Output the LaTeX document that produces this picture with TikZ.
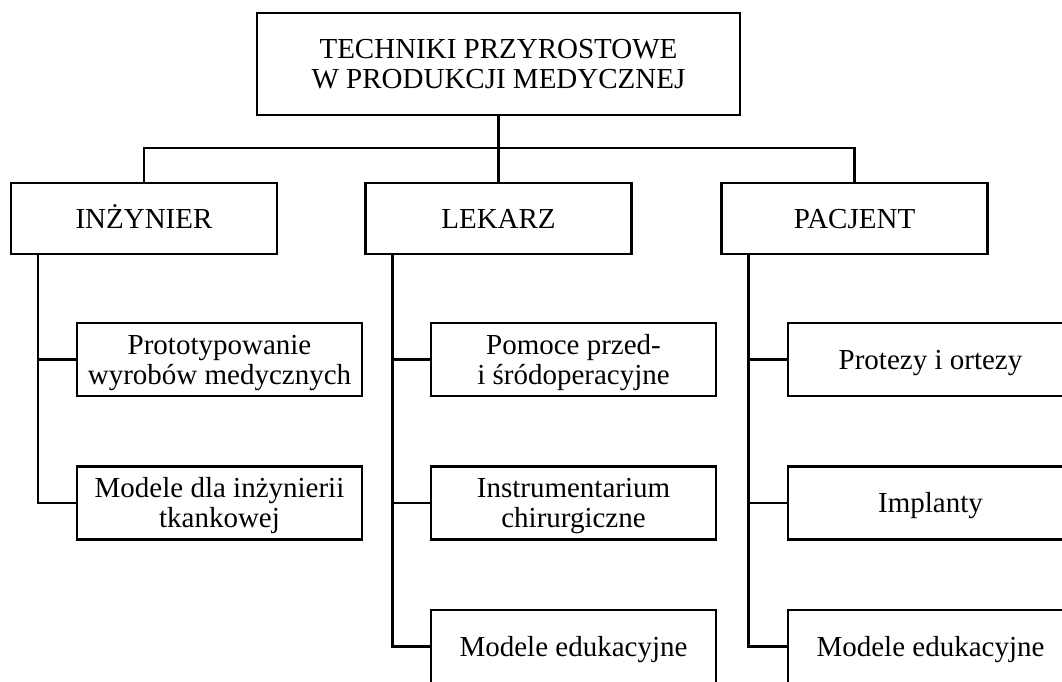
\documentclass[tikz,border=0pt]{standalone}
\usepackage{fontspec}
\setmainfont{Liberation Serif}

\begin{document}
\begin{tikzpicture}[x=1pt,y=-1pt]
\tikzset{every node/.style={font=\fontsize{29}{30}\selectfont}}
\tikzset{box/.style={draw, line width=2.2pt, align=center, inner sep=0pt, minimum width=285pt, minimum height=73pt, text height=19pt, text depth=0pt}}
\tikzset{twolines/.style={text height=49pt}}
\tikzset{group/.style={box, minimum width=266pt, minimum height=71pt}}
\tikzset{link/.style={line width=2.2pt}}
        \useasboundingbox (0,0) rectangle (1062,682);
        \clip (0,0) rectangle (1062,682);

        \node[box, twolines, minimum width=483pt, minimum height=102pt] (root) at (498.5, 64) {TECHNIKI PRZYROSTOWE\\W PRODUKCJI MEDYCZNEJ};

        \node[group] (inz) at (144, 218.5) {INŻYNIER};
        \node[group] (lek) at (498.5, 218.5) {LEKARZ};
        \node[group] (pac) at (854.5, 218.5) {PACJENT};

        \node[box, twolines] (inz1) at (219.5, 359.5) {Prototypowanie\\wyrobów medycznych};
        \node[box, twolines] (inz2) at (219.5, 503) {Modele dla inżynierii\\tkankowej};

        \node[box, twolines] (lek1) at (573.5, 359.5) {Pomoce przed-\\i śródoperacyjne};
        \node[box, twolines] (lek2) at (573.5, 503) {Instrumentarium\\chirurgiczne};
        \node[box] (lek3) at (573.5, 646.5) {Modele edukacyjne};

        \node[box] (pac1) at (930.5, 359.5) {Protezy i ortezy};
        \node[box] (pac2) at (930.5, 503) {Implanty};
        \node[box] (pac3) at (930.5, 646.5) {Modele edukacyjne};

        \coordinate (bar) at (498.5, 148);
        \draw[link] (root.south) -- (lek.north);
        \draw[link] (inz.north) |- (bar) -| (pac.north);

        \coordinate (inzspine) at ([xshift=28pt]inz.south west);
        \coordinate (lekspine) at ([xshift=28pt]lek.south west);
        \coordinate (pacspine) at ([xshift=28pt]pac.south west);

        \draw[link] (inzspine) |- (inz2.west);
        \draw[link] (inzspine |- inz1.west) -- (inz1.west);

        \draw[link] (lekspine) |- (lek3.west);
        \draw[link] (lekspine |- lek1.west) -- (lek1.west);
        \draw[link] (lekspine |- lek2.west) -- (lek2.west);

        \draw[link] (pacspine) |- (pac3.west);
        \draw[link] (pacspine |- pac1.west) -- (pac1.west);
        \draw[link] (pacspine |- pac2.west) -- (pac2.west);
\end{tikzpicture}
\end{document}
